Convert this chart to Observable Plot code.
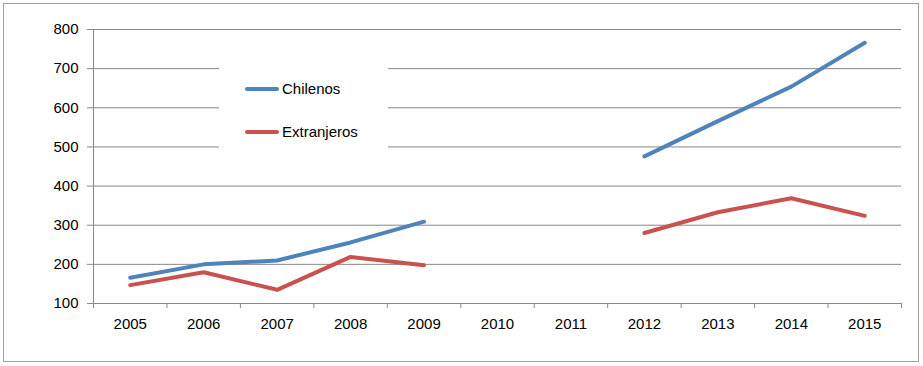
<!DOCTYPE html>
<html>
<head>
<meta charset="utf-8">
<script src="https://cdn.jsdelivr.net/npm/d3@7"></script>
<script src="https://cdn.jsdelivr.net/npm/@observablehq/plot@0.6"></script>
<style>
  body { margin: 0; background: #fff; }
  #wrap { position: relative; width: 923px; height: 366px; font-family: "Liberation Sans", Arial, sans-serif; }
  #border { position: absolute; left: 3px; top: 3px; width: 914px; height: 357px; border: 1px solid #a0a0a0; pointer-events: none; }
  #legend { position: absolute; left: 219px; top: 58px; width: 169px; height: 104px; background: #fff; }
  .item { position: absolute; left: 26px; display: flex; align-items: center; font-size: 15px; color: #000; }
  .swatch { width: 34px; height: 4px; margin-right: 3px; border-radius: 2px; }
</style>
</head>
<body>
<div id="wrap">
  <div id="border"></div>
</div>
<script>
const years = [2005, 2006, 2007, 2008, 2009, 2010, 2011, 2012, 2013, 2014, 2015];
const chilenos = [166, 200, 210, 256, 309, null, null, 476, 566, 654, 766];
const extranjeros = [147, 180, 135, 219, 198, null, null, 280, 333, 369, 324];
const seriesNames = ["Chilenos", "Extranjeros"];
const seriesColors = ["#4f84ba", "#c9514e"];
const yTicks = [100, 200, 300, 400, 500, 600, 700, 800];

const data = years.flatMap((yr, i) => [
  {year: yr, series: seriesNames[0], value: chilenos[i] ?? NaN},
  {year: yr, series: seriesNames[1], value: extranjeros[i] ?? NaN}
]);
const boundaries = years.map(y => y - 0.5).concat([years[years.length - 1] + 0.5]);
const grid = "#888888";

const chart = Plot.plot({
  width: 923,
  height: 366,
  marginLeft: 93,
  marginRight: 22,
  marginTop: 29,
  marginBottom: 63,
  style: {fontFamily: "Liberation Sans, Arial, sans-serif", fontSize: "15px", color: "#000", background: "transparent"},
  x: {type: "linear", domain: [boundaries[0], boundaries[boundaries.length - 1]]},
  y: {domain: [100, 800]},
  color: {domain: seriesNames, range: seriesColors},
  marks: [
    Plot.gridY(yTicks, {stroke: grid, strokeOpacity: 1}),
    Plot.axisY(yTicks, {tickSize: 6, tickPadding: 9, stroke: grid, label: null, fill: "#000"}),
    Plot.axisX(years, {tickSize: 0, tickPadding: 15, tickFormat: d => String(d), label: null, fill: "#000"}),
    Plot.axisX(boundaries, {tickSize: 5, tickFormat: () => "", stroke: grid, label: null}),
    Plot.ruleX([boundaries[0]], {stroke: grid}),
    Plot.line(data, {x: "year", y: "value", z: "series", stroke: "series", strokeWidth: 4, strokeLinejoin: "round", strokeLinecap: "round"})
  ]
});

const wrap = document.getElementById("wrap");
wrap.insertBefore(chart, wrap.firstChild);

const legend = document.createElement("div");
legend.id = "legend";
seriesNames.forEach((name, i) => {
  const item = document.createElement("div");
  item.className = "item";
  item.style.top = (i === 0 ? 22 : 65) + "px";
  const sw = document.createElement("div");
  sw.className = "swatch";
  sw.style.background = seriesColors[i];
  const label = document.createElement("span");
  label.textContent = name;
  item.appendChild(sw);
  item.appendChild(label);
  legend.appendChild(item);
});
wrap.appendChild(legend);
</script>
</body>
</html>
